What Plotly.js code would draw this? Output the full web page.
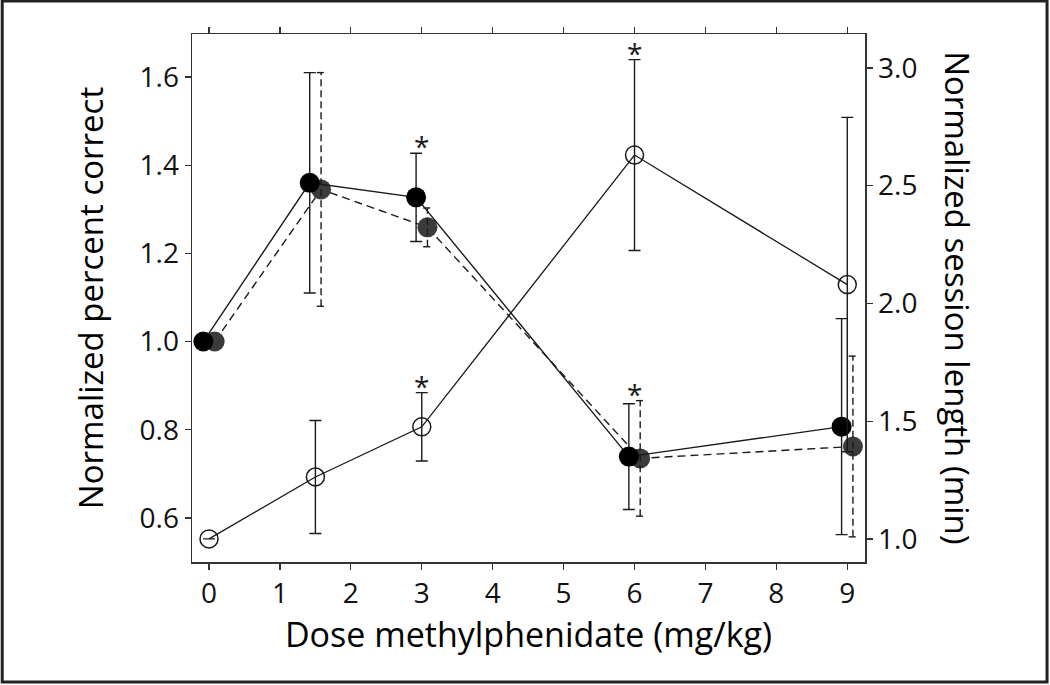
<!DOCTYPE html>
<html>
<head>
<meta charset="utf-8">
<script src="https://cdn.plot.ly/plotly-3.0.1.min.js"></script>
<style>
  body { margin: 0; background: #fff; }
  #chart { width: 1050px; height: 685px; }
</style>
</head>
<body>
<div id="chart"></div>
<script>
// doses in mg/kg
const doses = [0, 1.5, 3, 6, 9];

// normalized percent correct, two groups (solid / dashed)
const pctSolid = [1.0, 1.36, 1.327, 0.739, 0.807];
const pctSolidErr = [0, 0.25, 0.10, 0.12, 0.245];
const pctDashed = [1.0, 1.345, 1.259, 0.735, 0.762];
const pctDashedErr = [0, 0.265, 0.044, 0.131, 0.205];

// normalized session length (right axis)
const sessionLen = [1.0, 1.263, 1.476, 2.63, 2.08];
const sessionErr = [0, 0.24, 0.145, 0.405, 0.71];

// doses marked with *
const sigPct = [3, 6];
const sigSession = [3, 6];

const xTicks = [0, 1, 2, 3, 4, 5, 6, 7, 8, 9];

const shift = 0.08; // side-by-side offset so the two groups don't hide each other
const xSolid = doses.map(d => d - shift);
const xDashed = doses.map(d => d + shift);

const ink = '#1a1a1a';
const font = 'Open Sans, Noto Sans, sans-serif';

// dashed error bars can't be done with error_y, so build segments
const capW = 0.06;
const dashX = [], dashY = [];
xDashed.forEach((x, i) => {
    const e = pctDashedErr[i];
    if (!e) return;
    const y = pctDashed[i];
    dashX.push(x, x, null, x - capW, x + capW, null, x - capW, x + capW, null);
    dashY.push(y - e, y + e, null, y + e, y + e, null, y - e, y - e, null);
});

const errStyle = (arr) => ({
    type: 'data', array: arr, visible: true,
    color: ink, thickness: 1.4, width: 6
});

const traces = [
    {
        x: xDashed, y: pctDashed, yaxis: 'y',
        mode: 'lines+markers', type: 'scatter',
        line: { color: ink, width: 1.4, dash: '8px,5px' },
        marker: { size: 20, color: '#3b3b3b' }
    },
    {
        x: dashX, y: dashY, yaxis: 'y',
        mode: 'lines', type: 'scatter',
        line: { color: ink, width: 1.4, dash: '7px,4px' }
    },
    {
        x: xSolid, y: pctSolid, yaxis: 'y',
        mode: 'lines+markers', type: 'scatter',
        line: { color: ink, width: 1.4 },
        marker: { size: 20, color: '#000' },
        error_y: errStyle(pctSolidErr)
    },
    {
        x: doses, y: sessionLen, yaxis: 'y2',
        mode: 'lines+markers', type: 'scatter',
        line: { color: ink, width: 1.3 },
        marker: { size: 18, symbol: 'circle-open', color: ink, line: { width: 1.5 } },
        error_y: errStyle(sessionErr)
    }
];

// asterisks just above the highest error bar at each marked dose
const starFont = { family: font, size: 28, color: ink };
const annotations = [];
sigPct.forEach(d => {
    const i = doses.indexOf(d);
    const top = Math.max(pctSolid[i] + pctSolidErr[i], pctDashed[i] + pctDashedErr[i]);
    annotations.push({ x: d, y: top, xref: 'x', yref: 'y', text: '*', showarrow: false,
        yanchor: 'bottom', yshift: -14, font: starFont });
});
sigSession.forEach(d => {
    const i = doses.indexOf(d);
    annotations.push({ x: d, y: sessionLen[i] + sessionErr[i], xref: 'x', yref: 'y2', text: '*',
        showarrow: false, yanchor: 'bottom', yshift: -14, font: starFont });
});

// right axis title reads top-to-bottom
annotations.push({
    xref: 'paper', yref: 'paper', x: 1.138, y: 0.5, xanchor: 'center', yanchor: 'middle',
    textangle: 90, showarrow: false,
    text: 'Normalized session length (min)', font: { family: font, size: 33, color: '#000' }
});

const axisCommon = {
    showline: true, linecolor: '#333', linewidth: 1.5,
    ticks: 'outside', ticklen: 6, tickwidth: 1.2, tickcolor: '#333',
    showgrid: false, zeroline: false,
    tickfont: { family: font, size: 28, color: '#111' }
};

const layout = {
    width: 1050, height: 685,
    margin: { l: 192, r: 185, t: 34, b: 123 },
    paper_bgcolor: '#fff', plot_bgcolor: '#fff',
    showlegend: false,
    font: { family: font, color: '#000' },
    xaxis: Object.assign({}, axisCommon, {
        range: [-0.24, 9.25], tickvals: xTicks, mirror: 'ticks',
        title: { text: 'Dose methylphenidate (mg/kg)', font: { family: font, size: 34 }, standoff: 6 }
    }),
    yaxis: Object.assign({}, axisCommon, {
        range: [0.50, 1.6975], tickvals: [0.6, 0.8, 1.0, 1.2, 1.4, 1.6], tickformat: '.1f',
        title: { text: 'Normalized percent correct', font: { family: font, size: 33 }, standoff: 26 }
    }),
    yaxis2: Object.assign({}, axisCommon, {
        overlaying: 'y', side: 'right',
        range: [0.902, 3.144], tickvals: [1.0, 1.5, 2.0, 2.5, 3.0], tickformat: '.1f'
    }),
    annotations: annotations,
    shapes: [{
        type: 'rect', xref: 'paper', yref: 'paper',
        x0: -0.282, x1: 1.2705, y0: -0.2273, y1: 1.0625,
        line: { color: '#222', width: 3 }
    }]
};

Plotly.newPlot('chart', traces, layout, { staticPlot: true });
</script>
</body>
</html>
